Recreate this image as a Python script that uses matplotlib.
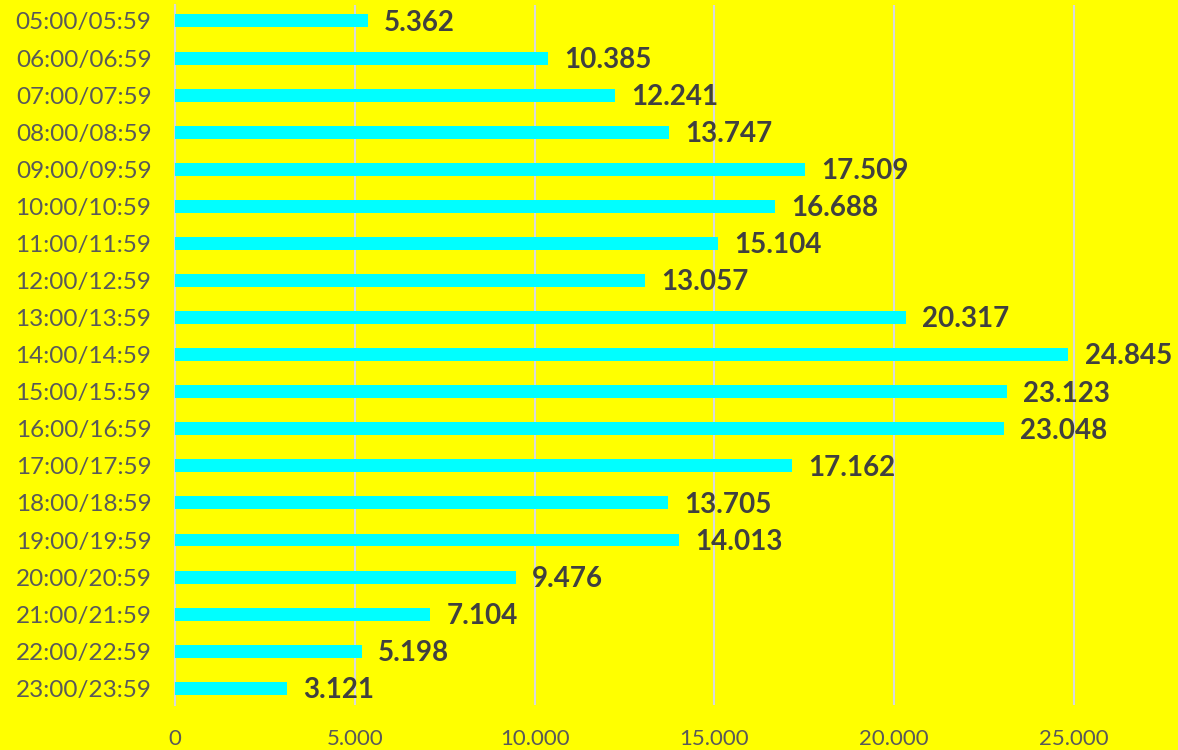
import matplotlib.pyplot as plt
from matplotlib.ticker import FuncFormatter

# -----------------------------
# Data
# -----------------------------

hours = [
    "05:00/05:59", "06:00/06:59", "07:00/07:59", "08:00/08:59",
    "09:00/09:59", "10:00/10:59", "11:00/11:59", "12:00/12:59",
    "13:00/13:59", "14:00/14:59", "15:00/15:59", "16:00/16:59",
    "17:00/17:59", "18:00/18:59", "19:00/19:59", "20:00/20:59",
    "21:00/21:59", "22:00/22:59", "23:00/23:59",
]

counts = [
    5362, 10385, 12241, 13747, 17509, 16688, 15104, 13057, 20317,
    24845, 23123, 23048, 17162, 13705, 14013, 9476, 7104, 5198, 3121,
]

x_ticks = [0, 5000, 10000, 15000, 20000, 25000]


def dotted(v):
    return f"{int(v):,}".replace(",", ".")


# -----------------------------
# Plot
# -----------------------------

plt.rcParams["font.family"] = ["Lato", "DejaVu Sans"]

fig = plt.figure(figsize=(11.78, 7.5), dpi=100)
fig.patch.set_facecolor("#FFFF00")

ax = fig.add_axes([175 / 1178, 45 / 750, 1 - 175 / 1178, 700 / 750])
ax.set_facecolor("#FFFF00")

pos = list(range(len(hours)))
ax.barh(pos, counts, height=0.35, color="#00FFFF", zorder=3)

for p, v in zip(pos, counts):
    ax.text(
        v + 450, p + 0.05, dotted(v),
        va="center", ha="left",
        fontsize=20, fontweight="bold", color="#404040",
        zorder=4,
    )

ax.set_ylim(len(hours) - 0.55, -0.43)
ax.set_xlim(0, 27890)

ax.set_yticks(pos)
ax.set_yticklabels(hours, fontsize=17.5, color="#595959")
ax.set_xticks(x_ticks)
ax.xaxis.set_major_formatter(FuncFormatter(lambda v, _: dotted(v)))
ax.tick_params(axis="x", labelsize=16, labelcolor="#595959", length=0, pad=17)
ax.tick_params(axis="y", length=0, pad=17)

ax.grid(axis="x", color="#D9D9D9", linewidth=1.5, zorder=0)
for s in ["top", "right", "bottom"]:
    ax.spines[s].set_visible(False)
ax.spines["left"].set_color("#D9D9D9")
ax.spines["left"].set_linewidth(1.5)

fig.savefig("out.png", dpi=100, facecolor=fig.get_facecolor())
